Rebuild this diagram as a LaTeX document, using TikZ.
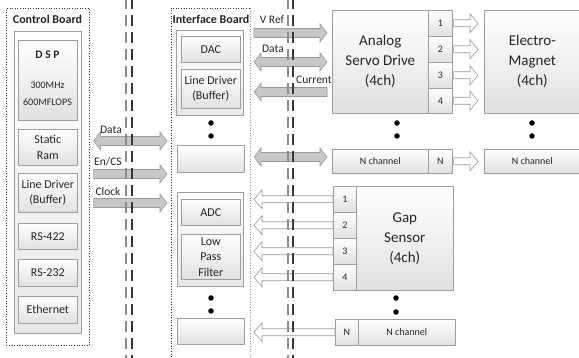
\documentclass[tikz,border=0pt]{standalone}
\usepackage{fontspec}
\setmainfont{Carlito}
\usetikzlibrary{calc}
\definecolor{bd}{gray}{0.62}
\definecolor{boxbot}{gray}{0.88}
\definecolor{grpbot}{gray}{0.91}
\definecolor{arrfill}{gray}{0.78}
\definecolor{arrbd}{gray}{0.6}
\definecolor{txt}{gray}{0.15}
\def\arS{4.5pt}\def\arH{9pt}\def\arL{7pt}
\newcommand\rarr[3]{\path[#1] let \p1=#2, \p2=#3 in (\x1,\y1+\arS) -- (\x2-\arL,\y1+\arS) -- (\x2-\arL,\y1+\arH) -- (\x2,\y1) -- (\x2-\arL,\y1-\arH) -- (\x2-\arL,\y1-\arS) -- (\x1,\y1-\arS) -- cycle;}
\newcommand\larr[3]{\path[#1] let \p1=#2, \p2=#3 in (\x1,\y1+\arS) -- (\x2+\arL,\y1+\arS) -- (\x2+\arL,\y1+\arH) -- (\x2,\y1) -- (\x2+\arL,\y1-\arH) -- (\x2+\arL,\y1-\arS) -- (\x1,\y1-\arS) -- cycle;}
\newcommand\darr[3]{\path[#1] let \p1=#2, \p2=#3 in (\x1,\y1) -- (\x1+\arL,\y1+\arH) -- (\x1+\arL,\y1+\arS) -- (\x2-\arL,\y1+\arS) -- (\x2-\arL,\y1+\arH) -- (\x2,\y1) -- (\x2-\arL,\y1-\arH) -- (\x2-\arL,\y1-\arS) -- (\x1+\arL,\y1-\arS) -- (\x1+\arL,\y1-\arH) -- cycle;}
\tikzset{
 bx/.style={draw=bd, line width=0.6pt, top color=white, bottom color=boxbot, inner sep=1pt, anchor=north west, align=center, text=txt, font=\fontsize{12}{15.5}\selectfont},
 grp/.style={bx, bottom color=grpbot},
 dotbox/.style={draw=black!80, dotted, line width=0.6pt, anchor=north west, inner sep=0pt},
 big/.style={font=\fontsize{15}{20}\selectfont},
 sm/.style={font=\fontsize{10}{12}\selectfont},
 lbl/.style={font=\fontsize{11.5}{13}\selectfont, text=txt, inner sep=0pt},
 ttl/.style={font=\bfseries\fontsize{12}{14}\selectfont, text=txt, inner sep=0pt},
 dotn/.style={circle, fill=black, inner sep=0pt, minimum size=5.5pt},
 garr/.style={fill=arrfill, draw=arrbd, line width=0.6pt},
 harr/.style={fill=white, draw=arrbd, line width=0.6pt},
 sepa/.style={line width=1.8pt, draw=black!45, dash pattern=on 11pt off 6pt, dash phase=2pt},
 sepb/.style={sepa, draw=black!78},
}
\begin{document}
\begin{tikzpicture}[x=1pt,y=-1pt]
\useasboundingbox (0,0) rectangle (579,358);
\clip (0,0) rectangle (579,358);
\fill[white] (0,0) rectangle (579,358);
% Control board
\node[dotbox, minimum width=83pt, minimum height=337pt] (cb) at (6,8) {};
\node[ttl] (cbt) at (47.5,19) {Control Board};
\node[grp, minimum width=67pt, minimum height=302pt] (cbin) at (14,31) {};
\node[bx, minimum width=59pt, minimum height=80pt] (dsp) at (18,40) {};
\node[ttl, font=\bfseries\fontsize{11.5}{13}\selectfont] (dspt) at (47.5,55) {D S P};
\node[sm, text=txt, inner sep=0pt] (dsp1) at (47.5,85) {300MHz};
\node[sm, text=txt, inner sep=0pt] (dsp2) at (47.5,102) {600MFLOPS};
\node[bx, minimum width=59pt, minimum height=36pt] (sram) at (18,129) {Static\\Ram};
\node[bx, minimum width=59pt, minimum height=39pt] (ld1) at (18,173) {Line Driver\\(Buffer)};
\node[bx, minimum width=59pt, minimum height=26pt] (rsa) at (18,223) {RS-422};
\node[bx, minimum width=59pt, minimum height=27pt] (rsb) at (18,259) {RS-232};
\node[bx, minimum width=59pt, minimum height=27pt] (eth) at (18,296) {Ethernet};
% Interface board
\coordinate (ibL) at (171,8);
\coordinate (ibR) at (250,8);
\coordinate (ibLb) at (171,362);
\coordinate (ibRb) at (250,362);
\draw[black!80, dotted, line width=0.6pt] (ibLb) -- (ibL) -- (ibR);
\draw[black!40, dotted, line width=0.6pt] (ibR) -- (ibRb);
\node[ttl] (ibt) at (211,19) {Interface Board};
\node[grp, minimum width=67pt, minimum height=85pt] (dacg) at (176,30) {};
\node[bx, minimum width=59pt, minimum height=26pt] (dac) at (181,36) {DAC};
\node[bx, minimum width=59pt, minimum height=39pt] (ld2) at (181,69) {Line Driver\\(Buffer)};
\node[bx, minimum width=67pt, minimum height=27pt] (emp1) at (177,145) {};
\node[grp, minimum width=66pt, minimum height=94pt] (adcg) at (177,192) {};
\node[bx, minimum width=59pt, minimum height=26pt] (adc) at (181,199) {ADC};
\node[bx, minimum width=59pt, minimum height=45pt] (lpf) at (181,234) {Low\\Pass\\Filter};
\node[bx, minimum width=67pt, minimum height=26pt] (emp2) at (177,318) {};
\node[dotn] (dt1) at (211,123) {};
\node[dotn] (dt2) at (211,136) {};
\node[dotn] (dt3) at (211,298) {};
\node[dotn] (dt4) at (211,311) {};
% Servo drive and magnet
\node[bx, big, minimum width=96pt, minimum height=103pt] (asd) at (332,10) {Analog\\Servo Drive\\(4ch)};
\node[bx, sm, minimum width=24pt, minimum height=26pt] (a1) at (428,10) {1};
\node[bx, sm, minimum width=24pt, minimum height=26pt] (a2) at (428,36) {2};
\node[bx, sm, minimum width=24pt, minimum height=26pt] (a3) at (428,62) {3};
\node[bx, sm, minimum width=24pt, minimum height=25pt] (a4) at (428,88) {4};
\node[bx, big, minimum width=96pt, minimum height=103pt] (em) at (484,10) {Electro-\\Magnet\\(4ch)};
\node[bx, sm, minimum width=96pt, minimum height=24pt] (asn) at (332,149) {N channel};
\node[bx, sm, minimum width=24pt, minimum height=24pt] (an) at (428,149) {N};
\node[bx, sm, minimum width=96pt, minimum height=24pt] (emn) at (484,149) {N channel};
\node[dotn] (dt5) at (397,123) {};
\node[dotn] (dt6) at (397,136) {};
\node[dotn] (dt7) at (532,123) {};
\node[dotn] (dt8) at (532,136) {};
% Gap sensor
\node[bx, big, minimum width=97pt, minimum height=104pt] (gs) at (356,186) {Gap\\Sensor\\(4ch)};
\node[bx, sm, minimum width=23pt, minimum height=26pt] (g1) at (333,186) {1};
\node[bx, sm, minimum width=23pt, minimum height=26pt] (g2) at (333,212) {2};
\node[bx, sm, minimum width=23pt, minimum height=26pt] (g3) at (333,238) {3};
\node[bx, sm, minimum width=23pt, minimum height=26pt] (g4) at (333,264) {4};
\node[bx, sm, minimum width=23pt, minimum height=26pt] (gn) at (335,319) {N};
\node[bx, sm, minimum width=97pt, minimum height=26pt] (gsn) at (358,319) {N channel};
\node[dotn] (dt9) at (396,298) {};
\node[dotn] (dt10) at (396,312) {};
% arrow end coordinates
\coordinate (cbE) at ($(cb.east)+(4,0)$);
\coordinate (ibW) at ($(ibL)+(-4,0)$);
\coordinate (ibE) at ($(ibR)+(4,0)$);
\coordinate (asdW) at ($(asd.west)+(-5,0)$);
\coordinate (emW) at ($(em.west)+(-6,0)$);
\coordinate (yDa) at (0,141);
\coordinate (yEn) at (0,174);
\coordinate (yCk) at (0,203);
\coordinate (yVr) at (0,33);
\coordinate (yDb) at (0,62);
\coordinate (yCu) at (0,92);
\coordinate (yNc) at (0,157);
% gray arrows
\darr{garr}{(cbE |- yDa)}{(ibW |- yDa)}
\rarr{garr}{(cbE |- yEn)}{(ibW |- yEn)}
\rarr{garr}{(cbE |- yCk)}{(ibW |- yCk)}
\rarr{garr}{(ibE |- yVr)}{(asdW |- yVr)}
\darr{garr}{(ibE |- yDb)}{(asdW |- yDb)}
\larr{garr}{(asdW |- yCu)}{(ibE |- yCu)}
\darr{garr}{(ibE |- yNc)}{(asdW |- yNc)}
% hollow arrows
\begin{scope}
\def\arS{3.5pt}\def\arH{9.5pt}\def\arL{8pt}
\rarr{harr}{($(a1.east)+(1,0)$)}{(emW |- a1.east)}
\rarr{harr}{($(a2.east)+(1,0)$)}{(emW |- a2.east)}
\rarr{harr}{($(a3.east)+(1,0)$)}{(emW |- a3.east)}
\rarr{harr}{($(a4.east)+(1,0)$)}{(emW |- a4.east)}
\rarr{harr}{($(an.east)+(1,0)$)}{(emW |- an.east)}
\larr{harr}{(g1.west)}{(ibE |- g1.west)}
\larr{harr}{(g2.west)}{(ibE |- g2.west)}
\larr{harr}{(g3.west)}{(ibE |- g3.west)}
\larr{harr}{(g4.west)}{(ibE |- g4.west)}
\larr{harr}{(gn.west)}{(ibE |- gn.west)}
\end{scope}
% labels
\node[lbl] (lDa) at (111,130) {Data};
\node[lbl] (lEn) at (108,162) {En/CS};
\node[lbl] (lCk) at (108,192) {Clock};
\node[lbl] (lVr) at (272,20) {V Ref};
\node[lbl] (lDb) at (273,49) {Data};
\node[lbl] (lCu) at (314,80) {Current};
% separators
\draw[sepa] (126,0) -- (126,358);
\draw[sepb] (132,0) -- (132,358);
\draw[sepa] (288,0) -- (288,358);
\draw[sepb] (293,0) -- (293,358);
\end{tikzpicture}
\end{document}
